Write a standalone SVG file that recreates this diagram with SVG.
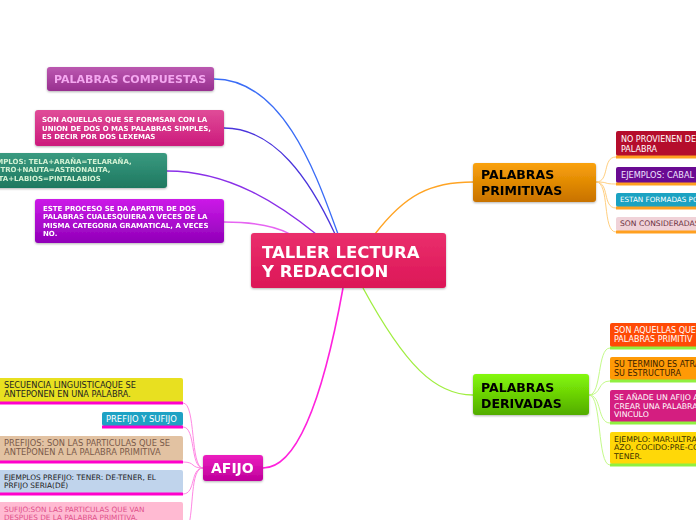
<svg xmlns="http://www.w3.org/2000/svg" width="696" height="520" viewBox="0 0 696 520">
<defs>
<linearGradient id="gCenter" x1="0" y1="0" x2="0" y2="1"><stop offset="0" stop-color="#ea2f6c"/><stop offset="1" stop-color="#dc1657"/></linearGradient>
<linearGradient id="gComp" x1="0" y1="0" x2="0" y2="1"><stop offset="0" stop-color="#bb58b0"/><stop offset="1" stop-color="#98308f"/></linearGradient>
<linearGradient id="gSon" x1="0" y1="0" x2="0" y2="1"><stop offset="0" stop-color="#e04c98"/><stop offset="1" stop-color="#cc1a7c"/></linearGradient>
<linearGradient id="gEj" x1="0" y1="0" x2="0" y2="1"><stop offset="0" stop-color="#3a9a80"/><stop offset="1" stop-color="#1e7860"/></linearGradient>
<linearGradient id="gEste" x1="0" y1="0" x2="0" y2="1"><stop offset="0" stop-color="#cc1ae8"/><stop offset="1" stop-color="#9000b8"/></linearGradient>
<linearGradient id="gPrim" x1="0" y1="0" x2="0" y2="1"><stop offset="0" stop-color="#faa20a"/><stop offset="1" stop-color="#c87200"/></linearGradient>
<linearGradient id="gDer" x1="0" y1="0" x2="0" y2="1"><stop offset="0" stop-color="#84f80a"/><stop offset="1" stop-color="#52ac00"/></linearGradient>
<linearGradient id="gAf" x1="0" y1="0" x2="0" y2="1"><stop offset="0" stop-color="#ec1ec0"/><stop offset="1" stop-color="#be009a"/></linearGradient>
<filter id="sh" x="-10%" y="-20%" width="120%" height="150%"><feDropShadow dx="0" dy="1" stdDeviation="1" flood-color="#000" flood-opacity="0.3"/></filter>
</defs>
<style>
text{font-family:"DejaVu Sans","Liberation Sans",sans-serif}
.b{font-weight:bold}
.t1{font-size:16.5px;fill:#fff;font-weight:bold}
.t2{font-size:12.5px;fill:#000;font-weight:bold}
.sm{font-size:7px}
.conn{fill:none}
.ul-o{stroke:#ffa020;stroke-width:3}
.ul-g{stroke:#90f040;stroke-width:3}
.ul-m{stroke:#ff00cc;stroke-width:3}
</style>
<rect width="696" height="520" fill="#fff"/>
<g id="connectors" class="conn">
<path d="M214,79 C285,79 318,180 338,234" stroke="#3a6cf6" stroke-width="1.3"/>
<path d="M224,128 C275,128 310,180 335,234" stroke="#4a34dc" stroke-width="1.3"/>
<path d="M167,171 C230,171 280,205 316,234" stroke="#8a30e8" stroke-width="1.3"/>
<path d="M224,222 C250,222 275,226 290,234" stroke="#e664f2" stroke-width="1.3"/>
<path d="M375,234 C405,195 430,182 473,182" stroke="#ffa424" stroke-width="1.3"/>
<path d="M363,288 C405,365 435,395 473,395" stroke="#a0ee40" stroke-width="1.3"/>
<path d="M343,288 C330,360 305,468 263,468" stroke="#ff22dd" stroke-width="1.6"/>
<g stroke="#ffcf80" stroke-width="1">
<path d="M596,182 C610,182 602,157 616,157"/>
<path d="M596,182 C610,182 602,184 616,184"/>
<path d="M596,182 C610,182 602,208 616,208"/>
<path d="M596,182 C610,182 602,232 616,232"/>
</g>
<g stroke="#c4fa8a" stroke-width="1">
<path d="M589,395 C602,395 597,348 610,348"/>
<path d="M589,395 C602,395 597,381 610,381"/>
<path d="M589,395 C602,395 597,423 610,423"/>
<path d="M589,395 C602,395 597,465 610,465"/>
</g>
<g stroke="#ff88e4" stroke-width="1">
<path d="M203,468 C190,468 196,403 183,403"/>
<path d="M203,468 C190,468 196,427 183,427"/>
<path d="M203,468 C190,468 196,462 183,462"/>
<path d="M203,468 C190,468 196,494 183,494"/>
<path d="M203,468 C190,468 194,510 188,528"/>
</g>
</g>
<g id="center" filter="url(#sh)">
<rect x="251" y="233" width="195" height="55" rx="3" fill="url(#gCenter)"/>
<text class="t1" x="262" y="258">TALLER LECTURA</text>
<text class="t1" x="262" y="277">Y REDACCION</text>
</g>
<g id="compuestas" filter="url(#sh)">
<rect x="47" y="67" width="167" height="24" rx="3" fill="url(#gComp)"/>
<text class="b" x="54" y="83" font-size="11px" fill="#f4a8f0">PALABRAS COMPUESTAS</text>
</g>
<g id="son-aquellas" filter="url(#sh)">
<rect x="35" y="110" width="189" height="36" rx="3" fill="url(#gSon)"/>
<text class="b sm" fill="#fff"><tspan x="42" y="122">SON AQUELLAS QUE SE FORMSAN CON LA</tspan><tspan x="42" y="131">UNION DE DOS O MAS PALABRAS SIMPLES,</tspan><tspan x="42" y="139">ES DECIR POR DOS LEXEMAS</tspan></text>
</g>
<g id="ejemplos-comp" filter="url(#sh)">
<rect x="-30" y="153" width="197" height="35" rx="3" fill="url(#gEj)"/>
<text class="b sm" fill="#d4f2d4"><tspan x="-16" y="164">EJEMPLOS: TELA+ARAÑA=TELARAÑA,</tspan><tspan x="-10" y="172">ASTRO+NAUTA=ASTRONAUTA,</tspan><tspan x="-15" y="181">PINTA+LABIOS=PINTALABIOS</tspan></text>
</g>
<g id="este-proceso" filter="url(#sh)">
<rect x="35" y="199" width="189" height="44" rx="3" fill="url(#gEste)"/>
<text class="b sm" fill="#fff"><tspan x="43" y="211">ESTE PROCESO SE DA APARTIR DE DOS</tspan><tspan x="43" y="219">PALABRAS CUALESQUIERA A VECES DE LA</tspan><tspan x="43" y="228">MISMA CATEGORIA GRAMATICAL, A VECES</tspan><tspan x="43" y="236">NO.</tspan></text>
</g>
<g id="primitivas" filter="url(#sh)">
<rect x="473" y="163" width="123" height="39" rx="3" fill="url(#gPrim)"/>
<text class="t2" x="481" y="179">PALABRAS</text>
<text class="t2" x="481" y="195">PRIMITIVAS</text>
</g>
<g id="prim-1">
<rect x="616" y="131" width="90" height="25" rx="2" fill="#b50d2c"/>
<line class="ul-o" x1="616" y1="157" x2="706" y2="157"/>
<text font-size="8px" fill="#fff"><tspan x="621" y="142">NO PROVIENEN DE</tspan><tspan x="621" y="151.5">PALABRA</tspan></text>
</g>
<g id="prim-2">
<rect x="616" y="167" width="90" height="16" rx="2" fill="#6a0a92"/>
<line class="ul-o" x1="616" y1="184" x2="706" y2="184"/>
<text font-size="8.2px" x="621" y="178" fill="#f0e4ff">EJEMPLOS: CABAL</text>
</g>
<g id="prim-3">
<rect x="616" y="193" width="90" height="14" rx="2" fill="#1ba2c2"/>
<line class="ul-o" x1="616" y1="208" x2="706" y2="208"/>
<text x="620" y="202" font-size="7.2px" fill="#fff">ESTAN FORMADAS PO</text>
</g>
<g id="prim-4">
<rect x="616" y="217" width="90" height="14" rx="2" fill="#f0d2d8"/>
<line class="ul-o" x1="616" y1="232" x2="706" y2="232"/>
<text x="620" y="226" font-size="7.6px" fill="#6a3040">SON CONSIDERADAS</text>
</g>
<g id="derivadas" filter="url(#sh)">
<rect x="473" y="374" width="116" height="41" rx="3" fill="url(#gDer)"/>
<text class="t2" x="481" y="392">PALABRAS</text>
<text class="t2" x="481" y="408">DERIVADAS</text>
</g>
<g id="der-1">
<rect x="610" y="323" width="96" height="24" rx="2" fill="#ff4a06"/>
<line class="ul-g" x1="610" y1="348" x2="706" y2="348"/>
<text font-size="8px" fill="#fff"><tspan x="614" y="333">SON AQUELLAS QUE</tspan><tspan x="614" y="342">PALABRAS PRIMITIV</tspan></text>
</g>
<g id="der-2">
<rect x="610" y="357" width="96" height="23" rx="2" fill="#ff9a06"/>
<line class="ul-g" x1="610" y1="381" x2="706" y2="381"/>
<text font-size="8px" fill="#3a2000"><tspan x="614" y="367">SU TERMINO ES ATRA</tspan><tspan x="614" y="376">SU ESTRUCTURA</tspan></text>
</g>
<g id="der-3">
<rect x="610" y="390" width="96" height="32" rx="2" fill="#d41e80"/>
<line class="ul-g" x1="610" y1="423" x2="706" y2="423"/>
<text font-size="7.8px" fill="#fff"><tspan x="614" y="400">SE AÑADE UN AFIJO A</tspan><tspan x="614" y="409">CREAR UNA PALABRA</tspan><tspan x="614" y="417">VINCULO</tspan></text>
</g>
<g id="der-4">
<rect x="610" y="432" width="96" height="32" rx="2" fill="#ffd808"/>
<line class="ul-g" x1="610" y1="465" x2="706" y2="465"/>
<text font-size="7.8px" fill="#3a3000"><tspan x="614" y="442">EJEMPLO: MAR:ULTRA</tspan><tspan x="614" y="450">AZO, COCIDO:PRE-CO</tspan><tspan x="614" y="459">TENER.</tspan></text>
</g>
<g id="afijo" filter="url(#sh)">
<rect x="203" y="455" width="60" height="26" rx="3" fill="url(#gAf)"/>
<text class="b" x="211" y="473" font-size="14px" fill="#fff">AFIJO</text>
</g>
<g id="af-1">
<rect x="-4" y="378" width="187" height="24" rx="2" fill="#e8e020"/>
<line class="ul-m" x1="-4" y1="403" x2="183" y2="403"/>
<text font-size="8.2px" fill="#222"><tspan x="4" y="388">SECUENCIA LINGUISTICAQUE SE</tspan><tspan x="4" y="397">ANTEPONEN EN UNA PALABRA.</tspan></text>
</g>
<g id="af-2">
<rect x="102" y="412" width="81" height="14" rx="2" fill="#1ea2c4"/>
<line class="ul-m" x1="102" y1="427" x2="183" y2="427"/>
<text font-size="8.4px" x="106" y="422" fill="#fff">PREFIJO Y SUFIJO</text>
</g>
<g id="af-3">
<rect x="-4" y="436" width="187" height="25" rx="2" fill="#e2c2a2"/>
<line class="ul-m" x1="-4" y1="462" x2="183" y2="462"/>
<text font-size="8.3px" fill="#7a5a4a"><tspan x="4" y="446">PREFIJOS: SON LAS PARTICULAS QUE SE</tspan><tspan x="4" y="455">ANTEPONEN A LA PALABRA PRIMITIVA</tspan></text>
</g>
<g id="af-4">
<rect x="-4" y="470" width="187" height="23" rx="2" fill="#c0d4ec"/>
<line class="ul-m" x1="-4" y1="494" x2="183" y2="494"/>
<text font-size="7.4px" fill="#222"><tspan x="4" y="480">EJEMPLOS PREFIJO: TENER: DE-TENER, EL</tspan><tspan x="4" y="488">PRFIJO SERIA(DE)</tspan></text>
</g>
<g id="af-5">
<rect x="-4" y="502" width="187" height="30" rx="2" fill="#ffbad2"/>
<text font-size="7.3px" fill="#e0508a"><tspan x="4" y="512">SUFIJO:SON LAS PARTICULAS QUE VAN</tspan><tspan x="4" y="520">DESPUES DE LA PALABRA PRIMITIVA.</tspan></text>
</g>
</svg>
